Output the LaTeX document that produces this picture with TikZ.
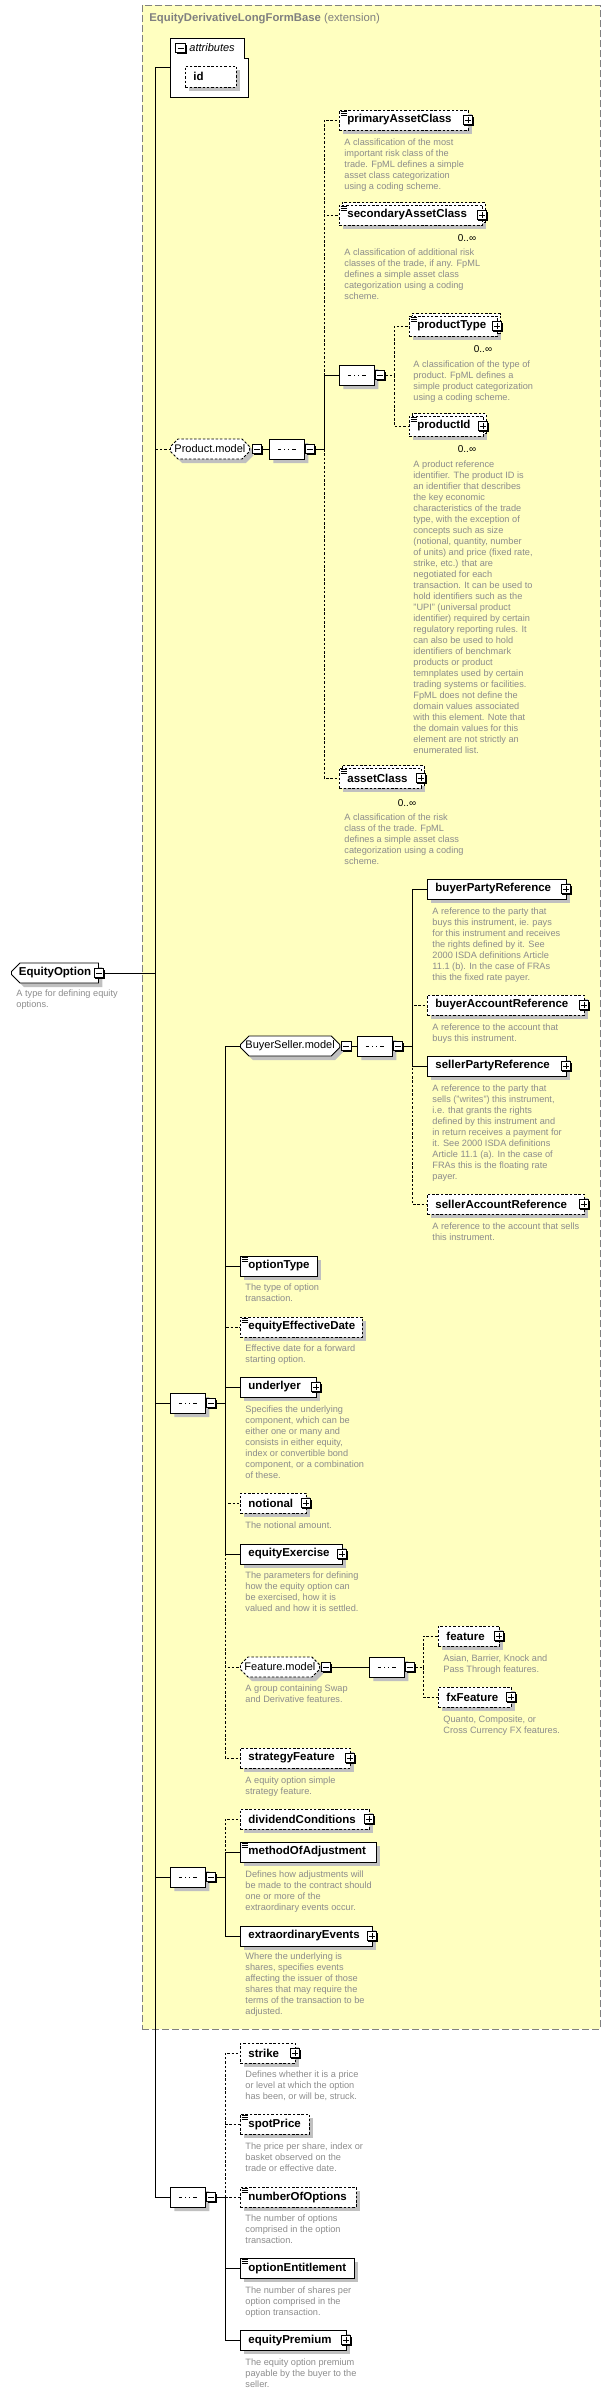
\documentclass[tikz,border=0pt]{standalone}
\usepackage{fontspec}
\setmainfont{Liberation Sans}
\usetikzlibrary{shapes.misc,shadows}

\definecolor{extfill}{RGB}{255,255,192}
\definecolor{extline}{RGB}{128,128,128}
\definecolor{descgray}{RGB}{140,140,140}
\definecolor{shadowgray}{RGB}{192,192,192}

\newcommand{\namefont}{\fontsize{11.5}{13}\selectfont\bfseries\hyphenpenalty=10000\relax}
\newcommand{\grpfont}{\fontsize{11}{13}\selectfont}
\newcommand{\descfont}{\fontsize{9.2}{11}\selectfont}
\newcommand{\multfont}{\fontsize{10}{12}\selectfont}
\newcommand{\docmark}[1]{%
  \foreach \d in {1.8,3.6,5.4}
    \draw[line width=0.6pt] ([shift={(1.5,\d)}]#1.north west) -- ++(6,0);}

\tikzset{
  opt/.style={dash pattern=on 2.5pt off 1.8pt},
  graysh/.style={drop shadow={shadow xshift=4pt, shadow yshift=-4pt, fill=shadowgray, opacity=1}},
  elem/.style={draw, fill=white, anchor=west, inner sep=0pt, minimum height=20pt,
    text width=#1pt, align=left, font=\namefont, graysh,
    execute at begin node={\hspace*{8pt}}},
  multi/.style={preaction={draw, fill=white, opt, transform canvas={shift={(2.5pt,2.5pt)}}}},
  topelem/.style={chamfered rectangle, chamfered rectangle xsep=5pt,
    chamfered rectangle corners={north west,south west}, draw, fill=white,
    anchor=west, inner sep=0pt, minimum width=87pt, minimum height=20pt, font=\namefont, graysh},
  grp/.style={chamfered rectangle, chamfered rectangle xsep=5pt, draw, fill=white,
    anchor=west, inner sep=0pt, minimum width=#1pt, minimum height=20pt, font=\grpfont, graysh},
  seqc/.style={chamfered rectangle, chamfered rectangle xsep=5pt, draw, fill=white,
    anchor=west, inner sep=0pt, minimum width=35pt, minimum height=20pt, graysh,
    path picture={
      \draw[line width=0.8pt] ([xshift=-9]path picture bounding box.center)
        -- ([xshift=9]path picture bounding box.center);
      \foreach \d in {-4,0,4}
        \fill ([xshift=\d]path picture bounding box.center) +(-1.5pt,-1.5pt) rectangle +(1.5pt,1.5pt);}},
  pmbox/.style={draw, fill=white, minimum size=9.5pt, inner sep=0pt, line width=0.8pt,
    drop shadow={shadow xshift=1.3pt, shadow yshift=-1.3pt, fill=black, opacity=1}},
  plusbox/.style={pmbox, path picture={
      \draw[line width=0.7pt] ([xshift=-3]path picture bounding box.center) -- ([xshift=3]path picture bounding box.center)
        ([yshift=-3]path picture bounding box.center) -- ([yshift=3]path picture bounding box.center);}},
  minusbox/.style={pmbox, path picture={
      \draw[line width=0.7pt] ([xshift=-3]path picture bounding box.center) -- ([xshift=3]path picture bounding box.center);}},
  desc/.style={anchor=north west, yshift=4.5pt, inner sep=0pt, align=left, font=\descfont, text=descgray},
  mult/.style={inner sep=0pt, font=\multfont},
  extbox/.style={draw=extline, fill=extfill, dash pattern=on 7pt off 3pt, anchor=north west, inner sep=0pt}
}

\begin{document}
\begin{tikzpicture}[x=1pt, y=-1pt, line width=0.9pt]
\useasboundingbox (0,0) rectangle (605,2395);

% extension base
\node[extbox, minimum width=458pt, minimum height=2024pt] (ext) at (142,5) {};
\node[anchor=west, inner sep=0pt, text=extline, font=\fontsize{11.3}{13}\selectfont] (ext-t) at (149,19) {\textbf{EquityDerivativeLongFormBase} (extension)};

% attributes
\node[anchor=north west, inner sep=0pt, minimum width=78pt, minimum height=59pt] (attr) at (170,38) {};
\filldraw[fill=white] (attr.north west) -- ++(74,0) -- ++(0,20) -- ++(4,0) |- (attr.south west) -- cycle;
\node[minusbox] (attr-m) at (180.5,48) {};
\node[anchor=west, inner sep=0pt, font=\grpfont\itshape] (attr-t) at (189,48) {attributes};
\node[elem=51, opt, minimum height=21pt] (id) at (185,76.5) {id};

% the type itself
\node[topelem] (eo) at (11,973) {EquityOption};
\node[minusbox] (eo-m) at (eo.east) {};
\node[desc] (eo-d) at (16,994) {A type for defining equity\\options.};

% Product.model
\node[grp=76, opt] (prodModel) at (170,449) {Product.model};
\node[minusbox, anchor=west] (prodModel-m) at ([xshift=2]prodModel.east) {};
\node[seqc] (seqP) at (269,449) {};
\node[minusbox, anchor=west] (seqP-m) at (seqP.east) {};
\node[seqc] (seqPT) at (339,375) {};
\node[minusbox, anchor=west] (seqPT-m) at (seqPT.east) {};

\node[elem=129, opt] (primaryAC) at (339,120) {primaryAssetClass};
\node[desc] (primaryAC-d) at (344,143) {A classification of the most\\important risk class of the\\trade. FpML defines a simple\\asset class categorization\\using a coding scheme.};
\node[elem=143, opt, multi] (secondaryAC) at (339,215) {secondaryAssetClass};
\node[mult] (secondaryAC-n) at (467,238) {0..∞};
\node[desc] (secondaryAC-d) at (344,253) {A classification of additional risk\\classes of the trade, if any. FpML\\defines a simple asset class\\categorization using a coding\\scheme.};
\node[elem=88, opt, multi] (productType) at (409,326) {productType};
\node[mult] (productType-n) at (483,349) {0..∞};
\node[desc] (productType-d) at (413,365) {A classification of the type of\\product. FpML defines a\\simple product categorization\\using a coding scheme.};
\node[elem=74, opt, multi] (productId) at (409,426) {productId};
\node[mult] (productId-n) at (467,449) {0..∞};
\node[desc] (productId-d) at (413,465) {A product reference\\identifier. The product ID is\\an identifier that describes\\the key economic\\characteristics of the trade\\type, with the exception of\\concepts such as size\\(notional, quantity, number\\of units) and price (fixed rate,\\strike, etc.) that are\\negotiated for each\\transaction. It can be used to\\hold identifiers such as the\\"UPI" (universal product\\identifier) required by certain\\regulatory reporting rules. It\\can also be used to hold\\identifiers of benchmark\\products or product\\temnplates used by certain\\trading systems or facilities.\\FpML does not define the\\domain values associated\\with this element. Note that\\the domain values for this\\element are not strictly an\\enumerated list.};
\node[elem=82, opt, multi] (assetClass) at (339,778) {assetClass};
\node[mult] (assetClass-n) at (407,803) {0..∞};
\node[desc] (assetClass-d) at (344,818) {A classification of the risk\\class of the trade. FpML\\defines a simple asset class\\categorization using a coding\\scheme.};

% option terms
\node[seqc] (seqM) at (170,1403) {};
\node[minusbox, anchor=west] (seqM-m) at (seqM.east) {};
\node[grp=95] (bsModel) at (240,1046) {BuyerSeller.model};
\node[minusbox, anchor=west] (bsModel-m) at ([xshift=1]bsModel.east) {};
\node[seqc] (seqBS) at (357,1046) {};
\node[minusbox, anchor=west] (seqBS-m) at (seqBS.east) {};

\node[elem=139] (buyerPR) at (427,889) {buyerPartyReference};
\node[desc] (buyerPR-d) at (432,912) {A reference to the party that\\buys this instrument, ie. pays\\for this instrument and receives\\the rights defined by it. See\\2000 ISDA definitions Article\\11.1 (b). In the case of FRAs\\this the fixed rate payer.};
\node[elem=157, opt] (buyerAR) at (427,1005) {buyerAccountReference};
\node[desc] (buyerAR-d) at (432,1028) {A reference to the account that\\buys this instrument.};
\node[elem=139] (sellerPR) at (427,1066) {sellerPartyReference};
\node[desc] (sellerPR-d) at (432,1089) {A reference to the party that\\sells ("writes") this instrument,\\i.e. that grants the rights\\defined by this instrument and\\in return receives a payment for\\it. See 2000 ISDA definitions\\Article 11.1 (a). In the case of\\FRAs this is the floating rate\\payer.};
\node[elem=157, opt] (sellerAR) at (427,1204) {sellerAccountReference};
\node[desc] (sellerAR-d) at (432,1227) {A reference to the account that sells\\this instrument.};

\node[elem=77] (optionType) at (240,1266) {optionType};
\node[desc] (optionType-d) at (245,1288) {The type of option\\transaction.};
\node[elem=122, opt] (effDate) at (240,1327) {equityEffectiveDate};
\node[desc] (effDate-d) at (245,1349) {Effective date for a forward\\starting option.};
\node[elem=76] (underlyer) at (240,1387) {underlyer};
\node[desc] (underlyer-d) at (245,1410) {Specifies the underlying\\component, which can be\\either one or many and\\consists in either equity,\\index or convertible bond\\component, or a combination\\of these.};
\node[elem=66, opt] (notional) at (240,1503) {notional};
\node[desc] (notional-d) at (245,1526) {The notional amount.};
\node[elem=102] (exercise) at (240,1554) {equityExercise};
\node[desc] (exercise-d) at (245,1576) {The parameters for defining\\how the equity option can\\be exercised, how it is\\valued and how it is settled.};

\node[grp=77, opt] (featModel) at (240,1667) {Feature.model};
\node[minusbox, anchor=west] (featModel-m) at ([xshift=1]featModel.east) {};
\node[desc] (featModel-d) at (245,1689) {A group containing Swap\\and Derivative features.};
\node[seqc] (seqF) at (369,1667) {};
\node[minusbox, anchor=west] (seqF-m) at (seqF.east) {};
\node[elem=61, opt] (feature) at (438,1636) {feature};
\node[desc] (feature-d) at (443,1659) {Asian, Barrier, Knock and\\Pass Through features.};
\node[elem=73, opt] (fxFeature) at (438,1697) {fxFeature};
\node[desc] (fxFeature-d) at (443,1720) {Quanto, Composite, or\\Cross Currency FX features.};
\node[elem=110, opt] (stratFeature) at (240,1758) {strategyFeature};
\node[desc] (stratFeature-d) at (245,1781) {A equity option simple\\strategy feature.};

% adjustments
\node[seqc] (seqT) at (170,1877) {};
\node[minusbox, anchor=west] (seqT-m) at (seqT.east) {};
\node[elem=129, opt] (dividend) at (240,1819) {dividendConditions};
\node[elem=136] (methodAdj) at (240,1852) {methodOfAdjustment};
\node[desc] (methodAdj-d) at (245,1875) {Defines how adjustments will\\be made to the contract should\\one or more of the\\extraordinary events occur.};
\node[elem=132] (extraEvents) at (240,1936) {extraordinaryEvents};
\node[desc] (extraEvents-d) at (245,1957) {Where the underlying is\\shares, specifies events\\affecting the issuer of those\\shares that may require the\\terms of the transaction to be\\adjusted.};

% option own elements
\node[seqc] (seqB) at (170,2197) {};
\node[minusbox, anchor=west] (seqB-m) at (seqB.east) {};
\node[elem=55, opt] (strike) at (240,2053) {strike};
\node[desc] (strike-d) at (245,2075) {Defines whether it is a price\\or level at which the option\\has been, or will be, struck.};
\node[elem=69, opt] (spotPrice) at (240,2124) {spotPrice};
\node[desc] (spotPrice-d) at (245,2147) {The price per share, index or\\basket observed on the\\trade or effective date.};
\node[elem=116, opt] (numOptions) at (240,2197) {numberOfOptions};
\node[desc] (numOptions-d) at (245,2219) {The number of options\\comprised in the option\\transaction.};
\node[elem=114] (entitlement) at (240,2268) {optionEntitlement};
\node[desc] (entitlement-d) at (245,2291) {The number of shares per\\option comprised in the\\option transaction.};
\node[elem=106] (premium) at (240,2340) {equityPremium};
\node[desc] (premium-d) at (245,2363) {The equity option premium\\payable by the buyer to the\\seller.};

% plus boxes and doc marks
\foreach \n in {primaryAC,secondaryAC,productType,productId,assetClass,buyerPR,buyerAR,sellerPR,sellerAR,underlyer,notional,exercise,feature,fxFeature,stratFeature,dividend,extraEvents,strike,premium}
  \node[plusbox] (\n-p) at ([xshift=-1]\n.east) {};
\foreach \n in {primaryAC,secondaryAC,productType,productId,assetClass,optionType,effDate,methodAdj,spotPrice,numOptions,entitlement}
  \docmark{\n};

% connectors
\coordinate (busM) at (155,973);
\coordinate (busP) at (324,449);
\coordinate (busPT) at (394,375);
\coordinate (busS) at (225,1403);
\coordinate (busBS) at (412,1046);
\coordinate (busF) at (423,1667);
\coordinate (busT) at (225,1877);
\coordinate (busB) at (225,2197);

\draw (eo-m.east) -- (busM);
\draw (busM) |- (attr.west);
\draw[opt] (busM) |- (prodModel.west);
\draw (busM) |- (seqM.west);
\draw (busM) |- (seqT.west);
\draw (busM) |- (seqB.west);

\draw (prodModel-m.east) -- (seqP.west);
\draw (seqP-m.east) -- (busP);
\draw[opt] (busP) |- (primaryAC.west);
\draw[opt] (busP) |- (secondaryAC.west);
\draw (busP) |- (seqPT.west);
\draw[opt] (busP) |- (assetClass.west);
\draw[opt] (seqPT-m.east) -- (busPT);
\draw[opt] (busPT) |- (productType.west);
\draw[opt] (busPT) |- (productId.west);

\draw (seqM-m.east) -- (busS);
\draw (busS) |- (bsModel.west);
\draw (busS) |- (optionType.west);
\draw[opt] (busS) |- (effDate.west);
\draw (busS) |- (underlyer.west);
\draw[opt] (busS) |- (notional.west);
\draw (busS) |- (exercise.west);
\draw[opt] (busS) |- (featModel.west);
\draw[opt] (busS) |- (stratFeature.west);

\draw (bsModel-m.east) -- (seqBS.west);
\draw (seqBS-m.east) -- (busBS);
\draw (busBS) |- (buyerPR.west);
\draw[opt] (busBS) |- (buyerAR.west);
\draw (busBS) |- (sellerPR.west);
\draw[opt] (busBS) |- (sellerAR.west);

\draw (featModel-m.east) -- (seqF.west);
\draw[opt] (seqF-m.east) -- (busF);
\draw[opt] (busF) |- (feature.west);
\draw[opt] (busF) |- (fxFeature.west);

\draw (seqT-m.east) -- (busT);
\draw[opt] (busT) |- (dividend.west);
\draw (busT) |- (methodAdj.west);
\draw (busT) |- (extraEvents.west);

\draw (seqB-m.east) -- (busB);
\draw[opt] (busB) |- (strike.west);
\draw[opt] (busB) |- (spotPrice.west);
\draw[opt] (busB) -- (numOptions.west);
\draw (busB) |- (entitlement.west);
\draw (busB) |- (premium.west);
\end{tikzpicture}
\end{document}
